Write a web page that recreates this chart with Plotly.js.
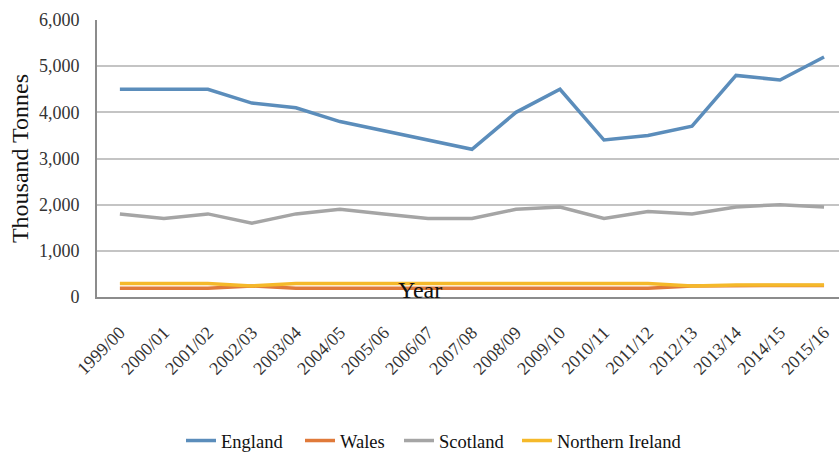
<!DOCTYPE html>
<html>
<head>
<meta charset="utf-8">
<script src="https://cdn.plot.ly/plotly-3.0.1.min.js"></script>
<style>
  html, body { margin: 0; padding: 0; background: #fff; }
  #chart { width: 839px; height: 452px; }
</style>
</head>
<body>
<div id="chart"></div>
<script>
// Financial years on the category axis
const years = ["1999/00","2000/01","2001/02","2002/03","2003/04","2004/05","2005/06",
  "2006/07","2007/08","2008/09","2009/10","2010/11","2011/12","2012/13","2013/14",
  "2014/15","2015/16"];

// Tonnage by nation, thousand tonnes
const england = [4500,4500,4500,4200,4100,3800,3600,3400,3200,4000,4500,3400,3500,3700,4800,4700,5200];
const wales = [190,190,190,240,190,190,190,190,190,190,190,190,190,240,250,250,250];
const scotland = [1800,1700,1800,1600,1800,1900,1800,1700,1700,1900,1950,1700,1850,1800,1950,2000,1950];
const northernIreland = [290,290,290,240,290,290,290,290,290,290,290,290,290,240,260,260,260];

const seriesNames = ["England", "Wales", "Scotland", "Northern Ireland"];
const seriesColors = ["#5b8dbb", "#e07a3a", "#a5a5a5", "#f5b92a"];
const seriesValues = [england, wales, scotland, northernIreland];

const serif = "Liberation Serif";
const W = 839, H = 452;

// One legend per series so each entry sits at its own spot along the bottom row
const legendIds = ["legend", "legend2", "legend3", "legend4"];
const legendLeft = [181, 300, 399, 517]; // px from the left edge of the figure

const traces = seriesValues.map((vals, i) => ({
  type: "scatter",
  mode: "lines",
  name: seriesNames[i],
  legend: legendIds[i],
  x: years,
  y: vals,
  line: { color: seriesColors[i], width: 3.5 },
  hoverinfo: "x+y+name"
}));

const layout = {
  width: W,
  height: H,
  margin: { l: 97, r: 0, t: 20, b: 155 },
  paper_bgcolor: "#ffffff",
  plot_bgcolor: "#ffffff",
  font: { family: serif, color: "#222222", size: 18 },
  showlegend: true,
  xaxis: {
    type: "category",
    range: [-0.52, 16.34],
    tickangle: -45,
    tickfont: { family: serif, size: 18, color: "#333333" },
    ticklabelstandoff: 16,
    showline: true,
    linecolor: "#8c8c8c",
    linewidth: 2,
    showgrid: false,
    ticks: "",
    zeroline: false,
    fixedrange: true
  },
  yaxis: {
    range: [0, 6000],
    dtick: 1000,
    tickformat: ",d",
    tickfont: { family: serif, size: 18, color: "#333333" },
    showline: true,
    linecolor: "#8c8c8c",
    linewidth: 2,
    showgrid: true,
    gridcolor: "#c4c4c4",
    gridwidth: 2,
    zeroline: false,
    ticks: "outside",
    ticklen: 12,
    tickcolor: "rgba(0,0,0,0)",
    title: { text: "Thousand Tonnes", font: { family: serif, size: 24, color: "#111111" }, standoff: 4 },
    fixedrange: true
  },
  annotations: [{
    text: "Year",
    xref: "paper", yref: "paper",
    x: (420 - 97) / 742, y: 0.025,
    xanchor: "center", yanchor: "middle",
    showarrow: false,
    font: { family: serif, size: 24, color: "#111111" }
  }]
};

legendIds.forEach((id, i) => {
  layout[id] = {
    orientation: "h",
    xref: "container", yref: "container",
    x: legendLeft[i] / W, xanchor: "left",
    y: 1 - 441 / H, yanchor: "middle",
    font: { family: serif, size: 18.5, color: "#111111" },
    bgcolor: "rgba(0,0,0,0)",
    borderwidth: 0
  };
});

Plotly.newPlot("chart", traces, layout, { displayModeBar: false, staticPlot: true });
</script>
</body>
</html>
